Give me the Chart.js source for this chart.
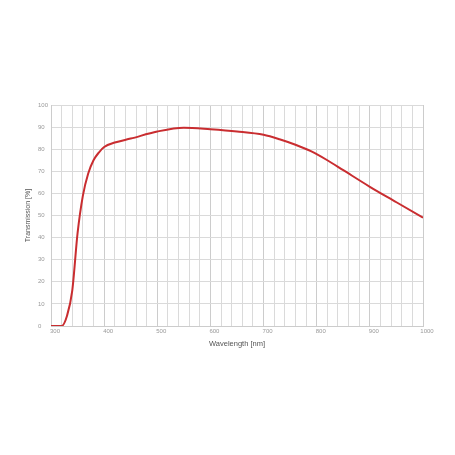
<!DOCTYPE html>
<html>
<head>
<meta charset="utf-8">
<script src="https://cdn.jsdelivr.net/npm/chart.js@4"></script>
<style>
  html, body { margin: 0; padding: 0; background: #fff; }
  #wrap { width: 455px; height: 455px; }
</style>
</head>
<body>
<div id="wrap"><canvas id="c" width="455" height="455"></canvas></div>
<script>
// wavelength in nm, transmission in %
const wavelengths = [300, 320, 330, 340, 350, 360, 370, 380, 390, 400, 420, 450, 500, 550, 600, 650, 700, 730, 760, 790, 820, 850, 900, 950, 1000];
const transmission = [0, 0, 4.5, 16, 42, 59, 69, 75, 78.5, 81, 83, 84.8, 88, 89.7, 89, 88, 86.5, 84.5, 82, 79, 75, 70.5, 63, 56, 49];
const xTickLabels = ["300", "400", "500", "600", "700", "800", "900", "1000"];

const points = wavelengths.map((w, i) => ({ x: w, y: transmission[i] }));
const font = "Arial, 'Liberation Sans', sans-serif";

new Chart(document.getElementById("c"), {
  type: "line",
  data: {
    datasets: [{
      data: points,
      borderColor: "#c92d30",
      borderWidth: 2,
      pointRadius: 0,
      cubicInterpolationMode: "monotone",
      fill: false,
    }],
  },
  options: {
    responsive: false,
    animation: false,
    layout: { padding: { left: 38, right: 32, top: 105, bottom: 107 } },
    plugins: { legend: { display: false }, tooltip: { enabled: false } },
    scales: {
      x: {
        type: "linear",
        min: 300,
        max: 1000,
        afterBuildTicks: (axis) => {
          const t = [];
          for (let v = 300; v <= 1000; v += 20) t.push({ value: v });
          axis.ticks = t;
        },
        ticks: {
          autoSkip: false,
          maxRotation: 0,
          labelOffset: 4,
          padding: 2,
          color: "#999",
          font: { family: font, size: 6 },
          callback: (v) => (v % 100 === 0 ? xTickLabels[(v - 300) / 100] : ""),
        },
        grid: {
          color: (ctx) => (ctx.tick && ctx.tick.value % 100 === 0 ? "#cccccc" : "#dadada"),
          drawTicks: false,
        },
        border: { color: "#cccccc" },
        title: {
          display: true,
          text: "Wavelength [nm]",
          color: "#555",
          font: { family: font, size: 7.5 },
          padding: { top: 2, bottom: 0 },
        },
        afterFit: (axis) => { axis.height = 22; },
      },
      y: {
        min: 0,
        max: 100,
        ticks: {
          stepSize: 10,
          crossAlign: "far",
          color: "#999",
          font: { family: font, size: 6 },
        },
        grid: { color: "#dadada", drawTicks: false },
        border: { color: "#cccccc" },
        title: {
          display: true,
          text: "Transmission [%]",
          color: "#555",
          font: { family: font, size: 7 },
          padding: { top: -14, bottom: 0 },
        },
        afterFit: (axis) => { axis.width = 13; },
      },
    },
  },
});
</script>
</body>
</html>
